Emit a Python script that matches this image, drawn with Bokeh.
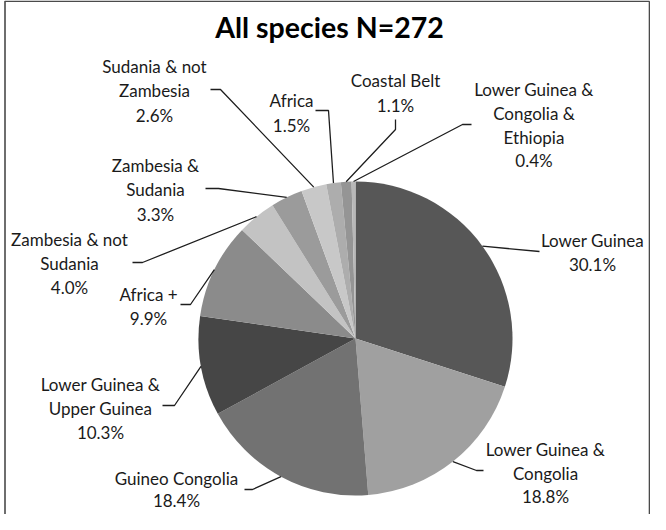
import math
from bokeh.plotting import figure
from bokeh.models import Range1d, ColumnDataSource
from bokeh.core.properties import value
from bokeh.embed import file_html
from bokeh.resources import INLINE

# ---- data ----
title = "All species N=272"
categories = [
    "Lower Guinea",
    "Lower Guinea & Congolia",
    "Guineo Congolia",
    "Lower Guinea & Upper Guinea",
    "Africa +",
    "Zambesia & not Sudania",
    "Zambesia & Sudania",
    "Sudania & not Zambesia",
    "Africa",
    "Coastal Belt",
    "Lower Guinea & Congolia & Ethiopia",
]
percents = [30.1, 18.8, 18.4, 10.3, 9.9, 4.0, 3.3, 2.6, 1.5, 1.1, 0.4]
label_lines = [
    ["Lower Guinea"],
    ["Lower Guinea &", "Congolia"],
    ["Guineo Congolia"],
    ["Lower Guinea &", "Upper Guinea"],
    ["Africa +"],
    ["Zambesia & not", "Sudania"],
    ["Zambesia &", "Sudania"],
    ["Sudania & not", "Zambesia"],
    ["Africa"],
    ["Coastal Belt"],
    ["Lower Guinea &", "Congolia &", "Ethiopia"],
]

# ---- styles / layout ----
colors = ["#575757", "#a0a0a0", "#727272", "#464646", "#8b8b8b", "#c3c3c3",
          "#9b9b9b", "#c8c8c8", "#adadad", "#959595", "#b8b8b8"]
W, H = 650, 514
X0, Y0 = 8, 8


def Y(s):
    return (Y0 + H) - s + Y0  # screen y -> data y


CX, CY, R = 363, 346, 157
# label centre (x, first-line y) in screen px, line spacing, leader points (label end, elbow)
label_pos = [(600, 248), (553, 457), (184, 486), (108, 392), (156, 302), (77, 247),
             (163, 173), (162, 74), (299, 108), (403, 88), (541.5, 97)]
line_h = [24.2, 23.6, 21.5, 24.0, 24.2, 24.2, 24.4, 24.4, 24.6, 24.6, 23.8]
leader_pts = [
    [(547, 259)],
    [(491, 478), (484, 478)],
    [(252, 497), (260, 497)],
    [(170, 413), (182, 413)],
    [(188, 312), (198, 312)],
    [(140, 270), (150, 270)],
    [(213, 196), (226, 196)],
    [(218, 97), (228, 97)],
    [(323, 118), (336, 118)],
    [(403, 127), (403, 137)],
    [(479, 132), (470, 132)],
]

p = figure(width=W, height=H, output_backend="svg", toolbar_location=None,
           x_range=Range1d(X0, X0 + W), y_range=Range1d(Y0, Y0 + H),
           min_border=0, background_fill_color="white", border_fill_color="white")
p.axis.visible = False
p.grid.visible = False
p.outline_line_color = None

total = sum(percents)
starts, ends, mids = [], [], []
cum = 0.0
for v in percents:
    a0 = math.pi / 2 - cum / total * 2 * math.pi
    cum += v
    a1 = math.pi / 2 - cum / total * 2 * math.pi
    starts.append(a0)
    ends.append(a1)
    mids.append((a0 + a1) / 2)

src = ColumnDataSource(dict(start=starts, end=ends, color=colors, cat=categories, pct=percents))
p.wedge(x=CX, y=Y(CY), radius=R, start_angle="start", end_angle="end",
        direction="clock", fill_color="color", line_color=None, source=src)

# leaders
xs, ys = [], []
for m, pts in zip(mids, leader_pts):
    lx = [q[0] for q in pts] + [CX + R * math.cos(m)]
    ly = [Y(q[1]) for q in pts] + [Y(CY) + R * math.sin(m)]
    xs.append(lx)
    ys.append(ly)
p.multi_line(xs=xs, ys=ys, line_color="#1e1e1e", line_width=1.3)

# labels
tx, ty, tt = [], [], []
for lines, v, (lx, ly), lh in zip(label_lines, percents, label_pos, line_h):
    all_lines = lines + [f"{v:.1f}%"]
    for i, t in enumerate(all_lines):
        tx.append(lx)
        ty.append(Y(ly + i * lh))
        tt.append(t)
p.text(x=tx, y=ty, text=tt, text_font=value("Lato"), text_font_size="17px",
       text_color="#1a1a1a", text_align="center", text_baseline="middle")

p.text(x=[337], y=[Y(34)], text=[title], text_font=value("Lato"), text_font_size="28.5px",
       text_font_style="bold", text_color="#000000", text_align="center",
       text_baseline="middle")

# chart border (left, top, right)
p.multi_line(xs=[[12.5, 12.5, 657], [657, 657]], ys=[[Y0, Y(8.8), Y(8.8)], [Y(8.8), Y0]],
             line_color="#4a4a4a", line_width=1.6)

open("out.html", "w").write(file_html(p, INLINE))
